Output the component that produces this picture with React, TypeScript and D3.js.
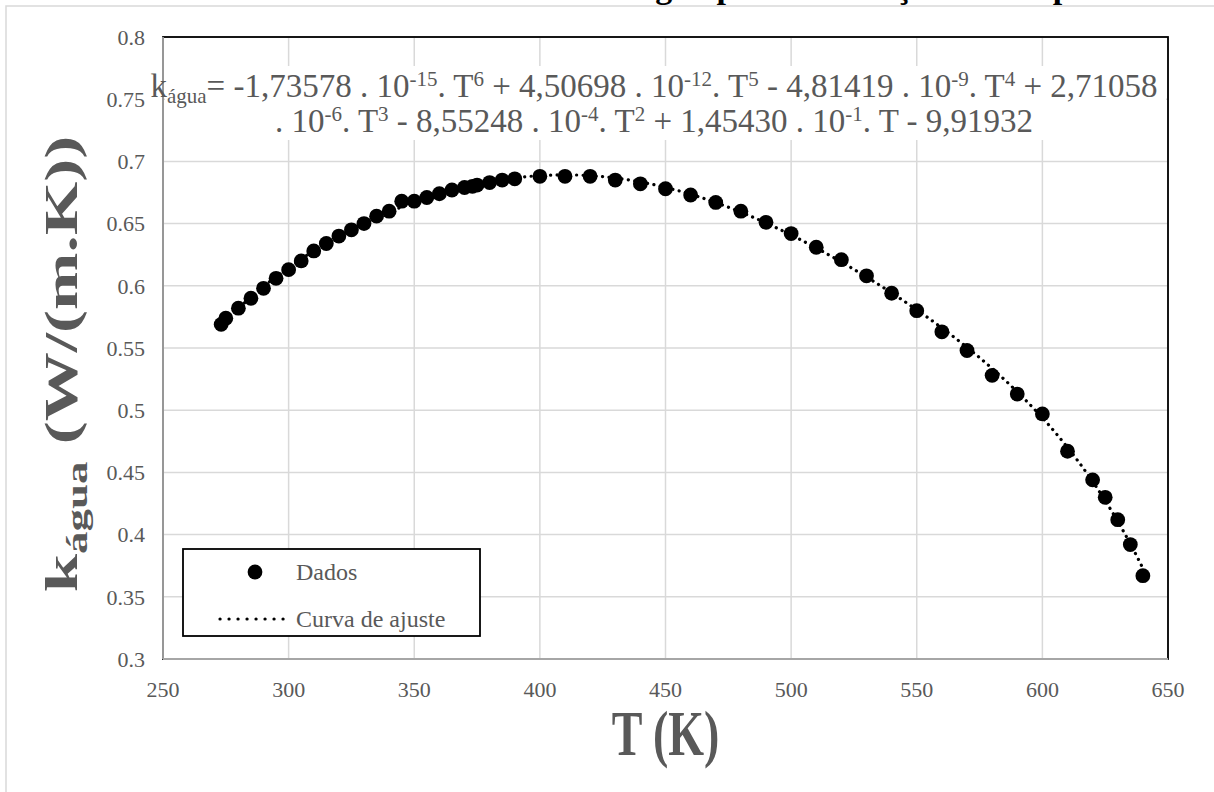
import React from "react";
import * as d3 from "d3";

// Saturated liquid water: temperature (K) and thermal conductivity (W/(m.K))
const temperatures = [
  273.15, 275, 280, 285, 290, 295, 300, 305, 310, 315, 320, 325, 330, 335, 340,
  345, 350, 355, 360, 365, 370, 373.15, 375, 380, 385, 390, 400, 410, 420, 430,
  440, 450, 460, 470, 480, 490, 500, 510, 520, 530, 540, 550, 560, 570, 580,
  590, 600, 610, 620, 625, 630, 635, 640,
];
const conductivity = [
  0.569, 0.574, 0.582, 0.59, 0.598, 0.606, 0.613, 0.62, 0.628, 0.634, 0.64,
  0.645, 0.65, 0.656, 0.66, 0.668, 0.668, 0.671, 0.674, 0.677, 0.679, 0.68,
  0.681, 0.683, 0.685, 0.686, 0.688, 0.688, 0.688, 0.685, 0.682, 0.678, 0.673,
  0.667, 0.66, 0.651, 0.642, 0.631, 0.621, 0.608, 0.594, 0.58, 0.563, 0.548,
  0.528, 0.513, 0.497, 0.467, 0.444, 0.43, 0.412, 0.392, 0.367,
];

// Fitted polynomial coefficients, highest power first (T^6 ... T^0)
const fitCoefficients = [
  -1.73578e-15, 4.50698e-12, -4.81419e-9, 2.71058e-6, -8.55248e-4,
  1.4543e-1, -9.91932,
];

const xTicks = [250, 300, 350, 400, 450, 500, 550, 600, 650];
const yTicks = [0.3, 0.35, 0.4, 0.45, 0.5, 0.55, 0.6, 0.65, 0.7, 0.75, 0.8];

const W = 1214;
const H = 792;
const plot = { left: 163, right: 1168, top: 37, bottom: 659 };
const SERIF = '"Liberation Serif", "Times New Roman", Times, serif';
const GRAY_TEXT = "#595959";

function polyValue(t: number): number {
  return fitCoefficients.reduce((acc, c) => acc * t + c, 0);
}

export default function App() {
  const x = d3.scaleLinear().domain([250, 650]).range([plot.left, plot.right]);
  const y = d3.scaleLinear().domain([0.3, 0.8]).range([plot.bottom, plot.top]);

  const tMin = temperatures[0];
  const tMax = temperatures[temperatures.length - 1];
  const curveT = d3.range(tMin, tMax, 0.5).concat([tMax]);
  const line = d3
    .line<number>()
    .x((t) => x(t))
    .y((t) => y(polyValue(t)));

  const points = temperatures.map((t, i) => ({ t, k: conductivity[i] }));
  const cx = (plot.left + plot.right) / 2;

  const sup = 21;
  const up = -11;

  return (
    <svg
      width={W}
      height={H}
      style={{ position: "absolute", left: 0, top: 0, background: "#fff", fontFamily: SERIF }}
    >
      <style>{`text, tspan { font-family: ${SERIF}; }`}</style>

      {/* chart frame */}
      <rect x={6} y={6} width={W + 10} height={H + 10} fill="#fff" stroke="#d9d9d9" strokeWidth={1.5} />

      {/* chart title, mostly above the visible area */}
      <text x={250} y={-2} fontSize={34} fontWeight="bold" fill="#000">
        Condutividade térmica da água pura em função da temperatura
      </text>

      {/* gridlines */}
      {xTicks.map((t) => (
        <line key={"gx" + t} x1={x(t)} x2={x(t)} y1={plot.top} y2={plot.bottom} stroke="#d9d9d9" strokeWidth={1.5} />
      ))}
      {yTicks.map((v) => (
        <line key={"gy" + v} x1={plot.left} x2={plot.right} y1={y(v)} y2={y(v)} stroke="#d9d9d9" strokeWidth={1.5} />
      ))}

      {/* plot border */}
      <rect
        x={plot.left}
        y={plot.top}
        width={plot.right - plot.left}
        height={plot.bottom - plot.top}
        fill="none"
        stroke="#000"
        strokeWidth={1.8}
      />
      {/* axis lines */}
      <line x1={plot.left} x2={plot.left} y1={plot.top} y2={plot.bottom} stroke="#a6a6a6" strokeWidth={1.8} />
      <line x1={plot.left} x2={plot.right} y1={plot.bottom} y2={plot.bottom} stroke="#a6a6a6" strokeWidth={1.8} />

      {/* tick labels */}
      {yTicks.map((v) => (
        <text key={"ty" + v} x={145} y={y(v)} dy="0.35em" textAnchor="end" fontSize={22} fill={GRAY_TEXT}>
          {String(v)}
        </text>
      ))}
      {xTicks.map((t) => (
        <text key={"tx" + t} x={x(t)} y={697} textAnchor="middle" fontSize={22} fill={GRAY_TEXT}>
          {t}
        </text>
      ))}

      {/* axis titles */}
      <text
        transform={`translate(${cx}, 755) scale(1, 1.38)`}
        textAnchor="middle"
        fontSize={46}
        fontWeight="bold"
        fill={GRAY_TEXT}
      >
        T (K)
      </text>
      <text
        transform={`translate(77, 364) scale(1, 1.5) rotate(-90)`}
        textAnchor="middle"
        fontSize={46}
        fontWeight="bold"
        fill={GRAY_TEXT}
      >
        k<tspan fontSize={30} dy={10}>água</tspan>
        <tspan dy={-10}> (W/(m.K))</tspan>
      </text>

      {/* fitted curve */}
      <path
        d={line(curveT) || ""}
        fill="none"
        stroke="#000"
        strokeWidth={3.2}
        strokeDasharray="0.1 6.4"
        strokeLinecap="round"
      />

      {/* data points */}
      {points.map((p, i) => (
        <circle key={"p" + i} cx={x(p.t)} cy={y(p.k)} r={7.4} fill="#000" />
      ))}

      {/* trendline equation */}
      <rect x={165} y={66} width={1001} height={74} fill="#fff" />
      <g fontSize={33} fill={GRAY_TEXT} textAnchor="middle">
        <text x={654} y={97}>
          k<tspan fontSize={sup} dy={6}>água</tspan>
          <tspan dy={-6}>= -1,73578 . 10</tspan>
          <tspan fontSize={sup} dy={up}>-15</tspan>
          <tspan dy={-up}>. T</tspan>
          <tspan fontSize={sup} dy={up}>6</tspan>
          <tspan dy={-up}> + 4,50698 . 10</tspan>
          <tspan fontSize={sup} dy={up}>-12</tspan>
          <tspan dy={-up}>. T</tspan>
          <tspan fontSize={sup} dy={up}>5</tspan>
          <tspan dy={-up}> - 4,81419 . 10</tspan>
          <tspan fontSize={sup} dy={up}>-9</tspan>
          <tspan dy={-up}>. T</tspan>
          <tspan fontSize={sup} dy={up}>4</tspan>
          <tspan dy={-up}> + 2,71058</tspan>
        </text>
        <text x={654} y={132}>
          . 10<tspan fontSize={sup} dy={up}>-6</tspan>
          <tspan dy={-up}>. T</tspan>
          <tspan fontSize={sup} dy={up}>3</tspan>
          <tspan dy={-up}> - 8,55248 . 10</tspan>
          <tspan fontSize={sup} dy={up}>-4</tspan>
          <tspan dy={-up}>. T</tspan>
          <tspan fontSize={sup} dy={up}>2</tspan>
          <tspan dy={-up}> + 1,45430 . 10</tspan>
          <tspan fontSize={sup} dy={up}>-1</tspan>
          <tspan dy={-up}>. T - 9,91932</tspan>
        </text>
      </g>

      {/* legend */}
      <rect x={183} y={549} width={297} height={87} fill="#fff" stroke="#000" strokeWidth={1.8} />
      <circle cx={255} cy={572} r={7.4} fill="#000" />
      <text x={296} y={580} fontSize={24} fill={GRAY_TEXT}>Dados</text>
      <line
        x1={220}
        x2={284}
        y1={619}
        y2={619}
        stroke="#000"
        strokeWidth={3.2}
        strokeDasharray="0.1 8.9"
        strokeLinecap="round"
      />
      <text x={296} y={627} fontSize={24} fill={GRAY_TEXT}>Curva de ajuste</text>
    </svg>
  );
}
